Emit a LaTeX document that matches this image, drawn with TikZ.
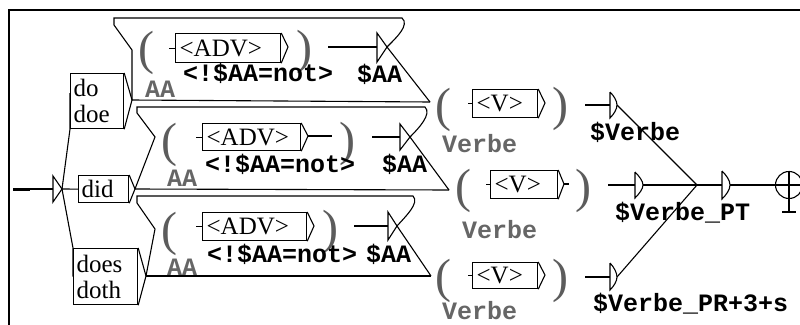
\documentclass[tikz,border=0pt]{standalone}
\usepackage{fontspec}
\setmainfont{Liberation Serif}
\setmonofont{Liberation Mono}
\definecolor{parcol}{gray}{0.36}
\definecolor{vargrey}{gray}{0.40}
\newcommand{\serifsz}{\fontsize{25}{26}\selectfont}
\newcommand{\monosz}{\ttfamily\bfseries\fontsize{25}{26}\selectfont}
\begin{document}
\begin{tikzpicture}[x=1pt,y=-1pt,
 ln/.style={line width=1.1pt},
 wbox/.style={draw,line width=1.2pt,inner sep=0pt,font=\serifsz,align=left,anchor=north west},
 par/.style={inner sep=0pt,text=parcol,font=\fontsize{48}{48}\selectfont},
 vname/.style={inner sep=0pt,text=vargrey,font=\monosz,anchor=base west},
 otxt/.style={inner sep=0pt,font=\monosz,anchor=base west}]
\useasboundingbox (0,0) rectangle (800,324);
\fill[white] (0,0) rectangle (800,324);
% frame
\draw[line width=2.5pt] (9,330) -- (9,10) -- (805,10);
% initial state
\draw[line width=3pt] (13,189) -- (30,189);
\draw[ln] (30,189) -- (53,189);
\coordinate (i0) at (62,189);
\draw[ln] (53,176) -- (53,202) -- (i0) -- cycle;
% left boxes
\node[wbox,minimum width=53pt,minimum height=55pt,text width=47pt] (dodoe) at (70,73) {do\\doe};
\node[wbox,minimum width=50pt,minimum height=27pt,text width=44pt] (did) at (78,175) {did};
\node[wbox,minimum width=64pt,minimum height=56pt,text width=58pt] (does) at (73,248) {does\\doth};
\coordinate (dodoeT) at (132,100);
\coordinate (didT) at (135,189);
\coordinate (doesT) at (146,276);
\draw[ln] (dodoe.north east) -- (dodoeT) -- (dodoe.south east);
\draw[ln] (did.north east) -- (didT) -- (did.south east);
\draw[ln] (does.north east) -- (doesT) -- (does.south east);
\draw[ln] (i0) -- (did.west);
\draw[ln] (i0) -- (dodoe.south west) -- ([yshift=8pt]dodoe.west);
\draw[ln] (i0) -- (does.north west) -- (does.west);
% junction targets
\coordinate (t1) at (387,47);
\coordinate (t2) at (410,137);
\coordinate (t3) at (397,226);
\coordinate (vin1) at (430,102);
\coordinate (vin2) at (449,190);
\coordinate (vin3) at (431,276);
% top shape
\draw[ln] (dodoeT) -- (132,50) -- (114,25) -- (114,18) -- (402,18) .. controls (410,25) and (396,38) .. (t1);
\draw[ln] (dodoeT) -- (vin1);
\draw[ln] (t1) -- (vin1);
\draw[ln] (377,33) -- (377,62) -- (t1) -- cycle;
\draw[ln] (328,47) -- (377,47);
% middle shape
\draw[ln] (didT) -- (155,137) -- (137,113) -- (137,107) -- (425,107) .. controls (432,114) and (419,128) .. (t2);
\draw[ln] (didT) -- (vin2);
\draw[ln] (t2) -- (vin2);
\draw[ln] (400,124) -- (400,150) -- (t2) -- cycle;
\draw[ln] (372,137) -- (400,137);
% bottom shape
\draw[ln] (doesT) -- (155,229) -- (137,203) -- (137,196) -- (413,196) .. controls (420,203) and (405,217) .. (t3);
\draw[ln] (doesT) -- (vin3);
\draw[ln] (t3) -- (vin3);
\draw[ln] (388,212) -- (388,240) -- (t3) -- cycle;
\draw[ln] (354,226) -- (388,226);
% ADV boxes
\node[wbox,minimum width=105pt,minimum height=29pt,text width=97pt] (adv1) at (175,33) {<ADV>};
\node[wbox,minimum width=98pt,minimum height=27pt,text width=90pt] (adv2) at (202,123) {<ADV>};
\node[wbox,minimum width=104pt,minimum height=28pt,text width=96pt] (adv3) at (202,212) {<ADV>};
\draw[ln] (adv1.north east) -- (288,47) -- (adv1.south east);
\draw[ln] (adv2.north east) -- (308,136) -- (adv2.south east);
\draw[ln] (308,136) -- (332,136);
\draw[ln] (adv3.north east) -- (314,226) -- (adv3.south east);
\draw[ln] (adv1.west) -- ++(-6,0);
\draw[ln] (adv2.west) -- ++(-6,0);
\draw[ln] (adv3.west) -- ++(-6,0);
% parentheses
\node[par] (lp1) at (146,53) {(};
\node[par] (rp1) at (304,52) {)};
\node[par] (lp2) at (169,145) {(};
\node[par] (rp2) at (347,144) {)};
\node[par] (lp3) at (169,234) {(};
\node[par] (rp3) at (330,232) {)};
\node[par] (lp4) at (443,110) {(};
\node[par] (rp4) at (560,109) {)};
\node[par] (lp5) at (463,191) {(};
\node[par] (rp5) at (583,191) {)};
\node[par] (lp6) at (443,281) {(};
\node[par] (rp6) at (560,281) {)};
% labels
\node[vname] (aa1) at (145,97) {AA};
\node[vname] (aa2) at (167,186) {AA};
\node[vname] (aa3) at (167,275) {AA};
\node[otxt] (c1) at (183,81) {<!\$AA=not>};
\node[otxt] (c2) at (205,172) {<!\$AA=not>};
\node[otxt] (c3) at (207,262) {<!\$AA=not>};
\node[otxt] (o1) at (357,82) {\$AA};
\node[otxt] (o2) at (382,172) {\$AA};
\node[otxt] (o3) at (366,262) {\$AA};
% V boxes
\node[wbox,minimum width=65pt,minimum height=28pt,text width=57pt] (v1) at (472,89) {<V>};
\node[wbox,minimum width=67pt,minimum height=28pt,text width=59pt] (v2) at (490,170) {<V>};
\node[wbox,minimum width=65pt,minimum height=26pt,text width=57pt] (v3) at (472,262) {<V>};
\draw[ln] (v1.north east) -- (545,103) -- (v1.south east);
\draw[ln] (v2.north east) -- (564,184) -- (v2.south east);
\draw[ln] (564,184) -- (569,184);
\draw[ln] (v3.north east) -- (545,275) -- (v3.south east);
\draw[ln] (v1.west) -- ++(-4,0);
\draw[ln] (v2.west) -- ++(-4,0);
\draw[ln] (v3.west) -- ++(-4,0);
\node[vname] (vb1) at (442,152) {Verbe};
\node[vname] (vb2) at (462,238) {Verbe};
\node[vname] (vb3) at (442,319) {Verbe};
\node[otxt] (s1) at (590,140) {\$Verbe};
\node[otxt] (s2) at (615,220) {\$Verbe\_PT};
\node[otxt] (s3) at (593,311) {\$Verbe\_PR+3+s};
% output triangles
\coordinate (e1) at (617,105);
\coordinate (e2) at (643,185);
\coordinate (e3) at (617,277);
\coordinate (jn) at (697,185);
\coordinate (e4) at (730,185);
\draw[ln] (585,105) -- (610,105);
\draw[ln] (610,92) -- (610,118) .. controls (614,114) and (617,109) .. (e1) .. controls (617,101) and (614,96) .. (610,92);
\draw[ln] (608,185) -- (635,185);
\draw[ln] (635,172) -- (635,198) .. controls (639,194) and (643,189) .. (e2) .. controls (643,181) and (639,176) .. (635,172);
\draw[ln] (585,277) -- (610,277);
\draw[ln] (610,263) -- (610,290) .. controls (614,286) and (617,281) .. (e3) .. controls (617,273) and (614,267) .. (610,263);
\draw[ln] (e1) -- (jn);
\draw[ln] (e2) -- (jn);
\draw[ln] (e3) -- (jn);
\draw[ln] (jn) -- (722,185);
\draw[ln] (722,171) -- (722,199) .. controls (726,195) and (730,190) .. (e4) .. controls (730,180) and (726,175) .. (722,171);
% final state
\node[draw,circle,line width=1.1pt,minimum size=27pt,inner sep=0pt] (fin) at (789,185) {};
\draw[ln] (e4) -- (fin.west) -- (fin.east);
\draw[ln] (fin.north) -- (789,212);
\draw[ln] (782,212) -- (796,212);
\end{tikzpicture}
\end{document}
